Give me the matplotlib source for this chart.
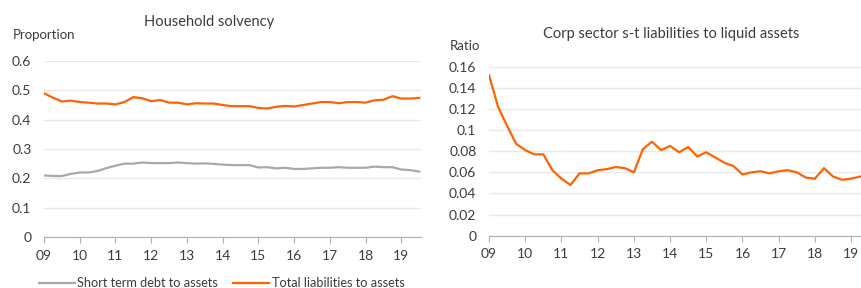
import numpy as np
import matplotlib
matplotlib.use("Agg")
import matplotlib.pyplot as plt

plt.rcParams['font.family'] = ['Lato', 'DejaVu Sans']

# household solvency, quarterly 2009Q1 - 2019Q3
short_term = [0.21, 0.208, 0.208, 0.215, 0.22, 0.22, 0.225, 0.235, 0.243, 0.25,
              0.25, 0.254, 0.252, 0.252, 0.252, 0.254, 0.252, 0.25, 0.251, 0.249,
              0.247, 0.245, 0.245, 0.245, 0.237, 0.238, 0.234, 0.236, 0.232, 0.232,
              0.234, 0.236, 0.236, 0.238, 0.236, 0.236, 0.236, 0.24, 0.238, 0.238,
              0.23, 0.228, 0.223]
total_liab = [0.49, 0.475, 0.462, 0.465, 0.46, 0.458, 0.455, 0.455, 0.452, 0.46,
              0.477, 0.473, 0.463, 0.467, 0.458, 0.458, 0.452, 0.456, 0.455, 0.455,
              0.45, 0.446, 0.446, 0.446, 0.44, 0.438, 0.444, 0.447, 0.445, 0.45,
              0.455, 0.46, 0.46, 0.456, 0.46, 0.46, 0.458, 0.466, 0.468, 0.48,
              0.472, 0.472, 0.474]

# corp sector, quarterly 2009Q1 - 2019Q2
corp_ratio = [0.152, 0.122, 0.104, 0.087, 0.081, 0.077, 0.077, 0.062, 0.054, 0.048,
              0.059, 0.059, 0.062, 0.063, 0.065, 0.064, 0.060, 0.082, 0.089, 0.081,
              0.085, 0.079, 0.084, 0.075, 0.079, 0.074, 0.069, 0.066, 0.058, 0.060,
              0.061, 0.059, 0.061, 0.062, 0.060, 0.055, 0.054, 0.064, 0.056, 0.053,
              0.054, 0.056]

year_ticks = list(range(9, 20))
year_labels = ['09', '10', '11', '12', '13', '14', '15', '16', '17', '18', '19']

orange = '#ff6200'
grey = '#a8a8a8'
txt = '#3c3c3c'
W, H = 862, 288

fig = plt.figure(figsize=(8.62, 2.88), dpi=100)


def style(ax):
    for s in ['top', 'right', 'left']:
        ax.spines[s].set_visible(False)
    ax.spines['bottom'].set_color('#b0b0b0')
    ax.grid(axis='y', color='#e8e8e8', linewidth=1)
    ax.set_axisbelow(True)
    ax.tick_params(axis='y', length=0, colors=txt, labelsize=10, pad=9)
    ax.tick_params(axis='x', length=4, color='#b0b0b0', colors=txt, labelsize=10, pad=5)
    ax.set_xticks(year_ticks)
    ax.set_xticklabels(year_labels)


# left panel
ax1 = fig.add_axes([44 / W, 1 - 237 / H, (421 - 44) / W, (237 - 61) / H])
x1 = 9 + np.arange(len(short_term)) / 4
ax1.plot(x1, short_term, color=grey, lw=1.6, label='Short term debt to assets')
ax1.plot(x1, total_liab, color=orange, lw=1.6, label='Total liabilities to assets')
ax1.set_xlim(9, 19.55)
ax1.set_ylim(0, 0.6)
ax1.set_yticks([0, 0.1, 0.2, 0.3, 0.4, 0.5, 0.6])
ax1.set_yticklabels(['0', '0.1', '0.2', '0.3', '0.4', '0.5', '0.6'])
style(ax1)
ax1.legend(loc='center left', bbox_to_anchor=(-5 / 377, -(283 - 237) / 176), ncol=2,
           frameon=False, fontsize=9.2, handlelength=2.8, handletextpad=0.2,
           columnspacing=1.2, labelcolor=txt, borderaxespad=0, borderpad=0)
fig.text(209 / W, 1 - 22 / H, 'Household solvency', ha='center', va='center',
         fontsize=10.5, color=txt)
fig.text(13 / W, 1 - 35 / H, 'Proportion', ha='left', va='center',
         fontsize=9.5, color=txt)

# right panel
ax2 = fig.add_axes([489 / W, 1 - 235.7 / H, (862 - 489) / W, (235.7 - 66.7) / H])
x2 = 9 + np.arange(len(corp_ratio)) / 4
ax2.plot(x2, corp_ratio, color=orange, lw=1.6)
ax2.set_xlim(9, 19.3)
ax2.set_ylim(0, 0.16)
ax2.set_yticks([0, 0.02, 0.04, 0.06, 0.08, 0.1, 0.12, 0.14, 0.16])
ax2.set_yticklabels(['0', '0.02', '0.04', '0.06', '0.08', '0.1', '0.12', '0.14', '0.16'])
style(ax2)
fig.text(671 / W, 1 - 34 / H, 'Corp sector s-t liabilities to liquid assets',
         ha='center', va='center', fontsize=10.5, color=txt)
fig.text(450 / W, 1 - 46 / H, 'Ratio', ha='left', va='center',
         fontsize=9.5, color=txt)

fig.savefig('out.png', dpi=100)
